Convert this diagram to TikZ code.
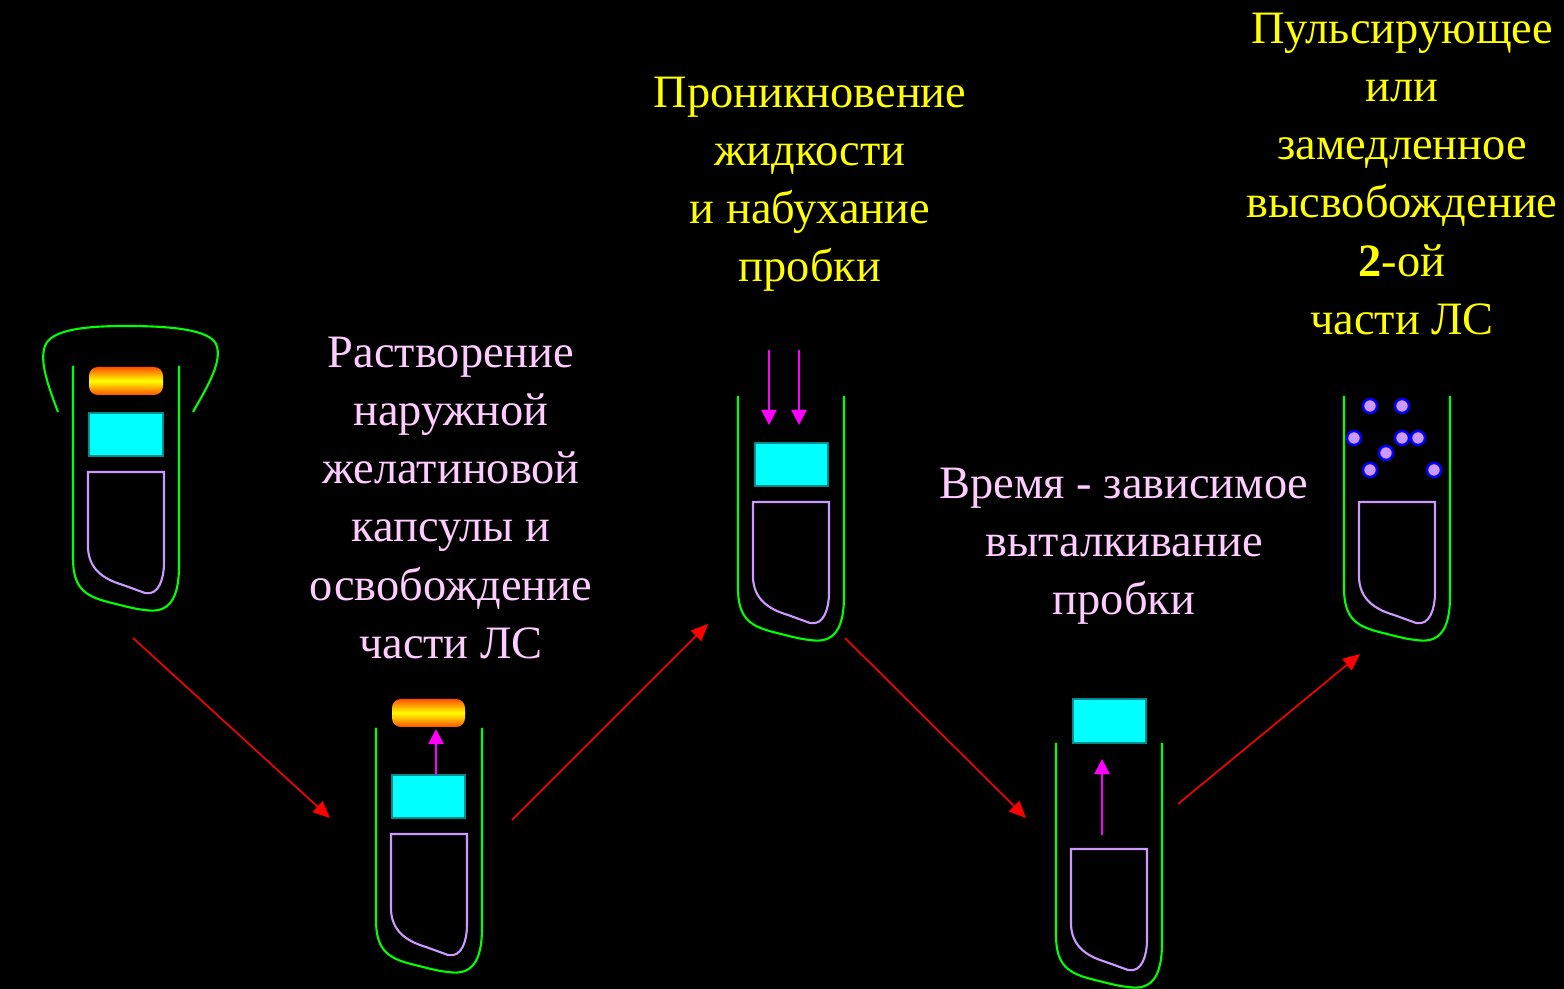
\documentclass[tikz,border=0pt]{standalone}
\usepackage{fontspec}
\setmainfont{Liberation Serif}
\usepackage{tikz}
\usetikzlibrary{arrows.meta}

\definecolor{verdeCaps}{RGB}{0,255,0}
\definecolor{lila}{RGB}{204,153,255}
\definecolor{cian}{RGB}{0,255,255}
\definecolor{naranja}{RGB}{255,80,0}
\definecolor{rosa}{RGB}{255,204,255}
\definecolor{amarillo}{RGB}{255,255,0}
\definecolor{fucsia}{RGB}{255,0,255}

% Cuerpo de la cápsula y copa interior (coordenadas relativas)
\newcommand{\capsula}{%
    \draw[Cuerpo] (0,0) -- (0,192) .. controls (0,222) and (12,230) .. (35,236)
        .. controls (55,241) and (62,243) .. (72,244) .. controls (96,248) and (106,233) .. (106,200) -- (106,0);
    \draw[Copa] (15,106) -- (15,182) .. controls (16,203) and (30,213) .. (50,219)
        -- (72,227) .. controls (86,230) and (91,212) .. (91,197) -- (91,106) -- cycle;
}

\begin{document}
\begin{tikzpicture}[
    x=0.01cm, y=-0.01cm,
    % Estilos de la cápsula
    Cuerpo/.style={draw=verdeCaps, line width=0.6pt},
    Copa/.style={draw=lila, line width=0.6pt},
    Tapon/.style={fill=cian, draw=cian!55!black, line width=0.3pt},
    Gel/.style={rounded corners=2.5pt, top color=naranja, bottom color=naranja, middle color=amarillo},
    Grano/.style={fill=lila, draw=blue, line width=0.7pt},
    % Flechas
    Empuje/.style={draw=fucsia, line width=0.6pt, -{Triangle[width=4.3pt,length=4.3pt]}},
    Paso/.style={draw=red, line width=0.45pt, -{Triangle[width=4.2pt,length=4.8pt]}},
    % Textos
    Rosa/.style={text=rosa, align=center, inner sep=0pt, font=\fontsize{13.2}{16.5}\selectfont},
    Amarillo/.style={text=amarillo, align=center, inner sep=0pt, font=\fontsize{13.2}{16.5}\selectfont}
]

    % --- FONDO ---
    \fill[black] (0,0) rectangle (1564,989);
    \useasboundingbox (0,0) rectangle (1564,989);

    % --- 1. CÁPSULA CERRADA ---
    \begin{scope}[shift={(73,366)}]
        \capsula
        \shade[Gel] (16,1) rectangle (90,29);
        \fill[Tapon] (16,47) rectangle (90,90);
        % tapa de gelatina
        \draw[Cuerpo] (-15,46) .. controls (-24,22) and (-34,-4) .. (-28,-20)
            .. controls (-22,-36) and (10,-40) .. (53,-40)
            .. controls (100,-40) and (136,-36) .. (143,-22)
            .. controls (150,-6) and (136,18) .. (120,46);
    \end{scope}

    % --- 2. SIN TAPA: SALE LA PRIMERA PARTE ---
    \begin{scope}[shift={(376,728)}]
        \capsula
        \shade[Gel] (16,-29) rectangle (89,-1);
        \fill[Tapon] (16,47) rectangle (89,90);
        \coordinate (c2a) at (60,47);
        \coordinate (c2b) at (60,1);
        \draw[Empuje] (c2a) -- (c2b);
    \end{scope}

    % --- 3. ENTRA EL LÍQUIDO ---
    \begin{scope}[shift={(738,396)}]
        \capsula
        \fill[Tapon] (17,47) rectangle (90,90);
        \foreach \x [count=\i] in {31,61} {
            \coordinate (c3a\i) at (\x,-46);
            \coordinate (c3b\i) at (\x,29);
            \draw[Empuje] (c3a\i) -- (c3b\i);
        }
    \end{scope}

    % --- 4. EXPULSIÓN DEL TAPÓN ---
    \begin{scope}[shift={(1056,743)}]
        \capsula
        \fill[Tapon] (17,-44) rectangle (90,0);
        \coordinate (c4a) at (46,92);
        \coordinate (c4b) at (46,16);
        \draw[Empuje] (c4a) -- (c4b);
    \end{scope}

    % --- 5. LIBERACIÓN DE LA SEGUNDA PARTE ---
    \begin{scope}[shift={(1344,396)}]
        \capsula
    \end{scope}
    \foreach \px/\py in {1370/406, 1402/406, 1354/438, 1402/438, 1418/438,
                         1386/453, 1370/470, 1434/470} {
        \draw[Grano] (\px,\py) circle (7);
    }

    % --- 6. FLECHAS ENTRE ETAPAS ---
    \coordinate (p1) at (133,638);  \coordinate (q1) at (330,818);
    \coordinate (p2) at (512,820);  \coordinate (q2) at (708,624);
    \coordinate (p3) at (845,638);  \coordinate (q3) at (1026,818);
    \coordinate (p4) at (1178,804); \coordinate (q4) at (1360,654);
    \foreach \i in {1,...,4} {
        \draw[Paso] (p\i) -- (q\i);
    }

    % --- 7. TEXTOS ---
    \node[Rosa] (disolucion) at (451,498) {Растворение\\наружной\\желатиновой\\капсулы и\\освобождение\\части ЛС};
    \node[Amarillo] (penetracion) at (810,184) {Проникновение\\жидкости\\и набухание\\пробки};
    \node[Rosa] (expulsion) at (1124,546) {Время - зависимое\\выталкивание\\пробки};
    \node[Amarillo] (liberacion) at (1402,174) {Пульсирующее\\или\\замедленное\\высвобождение\\{\bfseries 2}-ой\\части ЛС};

\end{tikzpicture}
\end{document}
